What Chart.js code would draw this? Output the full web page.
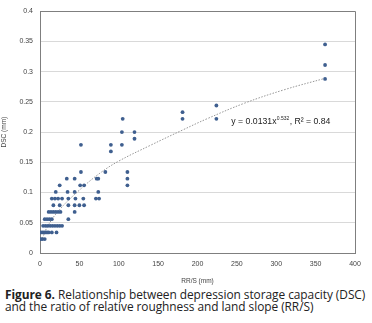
<!DOCTYPE html>
<html><head><meta charset="utf-8">
<script src="https://cdn.jsdelivr.net/npm/chart.js@4/dist/chart.umd.min.js"></script>
<style>
html,body{margin:0;padding:0;background:#fff;}
#wrap{position:relative;width:372px;height:285px;}
#cap{position:absolute;left:5px;top:288px;width:366px;font-family:"Open Sans",sans-serif;font-size:11.9px;line-height:12px;color:#222;white-space:nowrap;letter-spacing:-0.05px;}
</style></head>
<body>
<div id="wrap"><canvas id="c" width="372" height="285"></canvas></div>
<div id="cap"><b>Figure 6.</b> Relationship between depression storage capacity (DSC)<br>and the ratio of relative roughness and land slope (RR/S)</div>
<script>
const xTitle = "RR/S (mm)";
const yTitle = "DSC (mm)";
const eqText = ["y = 0.0131x", "0.532", ", R\u00b2 = 0.84"];
const eqAnchor = {x: 243, y: 0.214};
const xTicks = [0,50,100,150,200,250,300,350,400];
const yTicks = [0,0.05,0.1,0.15,0.2,0.25,0.3,0.35,0.4];
// observed points (RR/S, DSC)
const rrs = [1,3,6, 1,3,5,7,9,11,15,21, 4,7,10,13,16,19,22,25,28, 6,9,12,15,36,
  11,14,17,20,23,26,44, 17,25,36,44,50,56, 15,19,23,28,36,45,55,71,75,
  20,35,44,74, 25,51,56,111, 34,44,72,74,111, 52,83,111, 90, 52,90,104, 120,
  104,120, 105,181,224, 181, 224, 362,362,362];
const dsc = [0.023,0.023,0.023, 0.034,0.034,0.034,0.034,0.034,0.034,0.034,0.034,
  0.045,0.045,0.045,0.045,0.045,0.045,0.045,0.045,0.045, 0.056,0.056,0.056,0.056,0.056,
  0.068,0.068,0.068,0.068,0.068,0.068,0.068, 0.079,0.079,0.079,0.079,0.079,0.079,
  0.09,0.09,0.09,0.09,0.09,0.09,0.09,0.09,0.09, 0.101,0.101,0.101,0.101,
  0.112,0.112,0.112,0.112, 0.123,0.123,0.123,0.123,0.123, 0.134,0.134,0.134, 0.168,
  0.179,0.179,0.179, 0.189, 0.2,0.2, 0.222,0.222,0.222, 0.233, 0.244, 0.288,0.311,0.345];
// power trendline
const trendX = [3,10,25,50,76,100,140,182,212,260,310,362];
const trendY = [0.024,0.045,0.072,0.104,0.132,0.152,0.178,0.204,0.222,0.248,0.27,0.289];

const pts = rrs.map((x,i)=>({x:x,y:dsc[i]}));
const trend = trendX.map((x,i)=>({x:x,y:trendY[i]}));

const eqPlugin = {
  id:'eq',
  afterDatasetsDraw(chart){
    const c = chart.ctx, xs = chart.scales.x, ys = chart.scales.y;
    let px = xs.getPixelForValue(eqAnchor.x), py = ys.getPixelForValue(eqAnchor.y);
    c.save();
    c.fillStyle = '#222';
    c.textBaseline = 'alphabetic';
    c.font = '8.7px "Liberation Sans", sans-serif';
    c.fillText(eqText[0], px, py); px += c.measureText(eqText[0]).width;
    c.font = '5px "Liberation Sans", sans-serif';
    c.fillText(eqText[1], px+0.3, py-4); px += c.measureText(eqText[1]).width+0.6;
    c.font = '8.7px "Liberation Sans", sans-serif';
    c.fillText(eqText[2], px, py);
    c.restore();
  }
};
const borderPlugin = {
  id:'frame',
  afterDraw(chart){
    const a = chart.chartArea, c = chart.ctx;
    c.save(); c.strokeStyle='#7f7f7f'; c.lineWidth=1;
    c.beginPath();
    c.moveTo(Math.round(a.left)+0.5, Math.round(a.top)+0.5);
    c.lineTo(Math.round(a.right)+0.5, Math.round(a.top)+0.5);
    c.lineTo(Math.round(a.right)+0.5, Math.round(a.bottom)+0.5);
    c.stroke(); c.restore();
  }
};

new Chart(document.getElementById('c'), {
  type:'scatter',
  data:{datasets:[
    {data:pts, pointRadius:1.9, pointBackgroundColor:'#3f5f8f', pointBorderColor:'#3f5f8f', pointBorderWidth:0, showLine:false, order:1},
    {data:trend, showLine:true, pointRadius:0, borderColor:'#8a8a8a', borderWidth:0.9, borderDash:[1.5,1.5], tension:0.4, order:2}
  ]},
  options:{
    responsive:false, animation:false, devicePixelRatio:1,
    layout:{padding:{left:0,top:11,right:17,bottom:0}},
    plugins:{legend:{display:false}, tooltip:{enabled:false}},
    scales:{
      x:{type:'linear', min:0, max:400,
        afterBuildTicks(s){ s.ticks = xTicks.map(v=>({value:v})); },
        afterFit(s){ s.height = 32; },
        grid:{display:false, drawTicks:false},
        border:{display:true, color:'#7f7f7f', width:1},
        ticks:{color:'#444', font:{family:'"Liberation Sans", sans-serif', size:7}, padding:7, maxRotation:0},
        title:{display:true, text:xTitle, color:'#444', font:{family:'"Liberation Sans", sans-serif', size:6.5}, padding:{top:1,bottom:0}}
      },
      y:{type:'linear', min:0, max:0.4,
        afterBuildTicks(s){ s.ticks = yTicks.map(v=>({value:v})); },
        afterFit(s){ s.width = 40; },
        grid:{color:'#d9d9d9', lineWidth:1, drawTicks:false},
        border:{display:true, color:'#7f7f7f', width:1},
        ticks:{color:'#444', font:{family:'"Liberation Sans", sans-serif', size:7}, padding:7, callback:v=>String(v)},
        title:{display:true, text:yTitle, color:'#444', font:{family:'"Liberation Sans", sans-serif', size:6.5}, padding:{top:0,bottom:4}}
      }
    }
  },
  plugins:[eqPlugin, borderPlugin]
});
</script>
</body></html>
